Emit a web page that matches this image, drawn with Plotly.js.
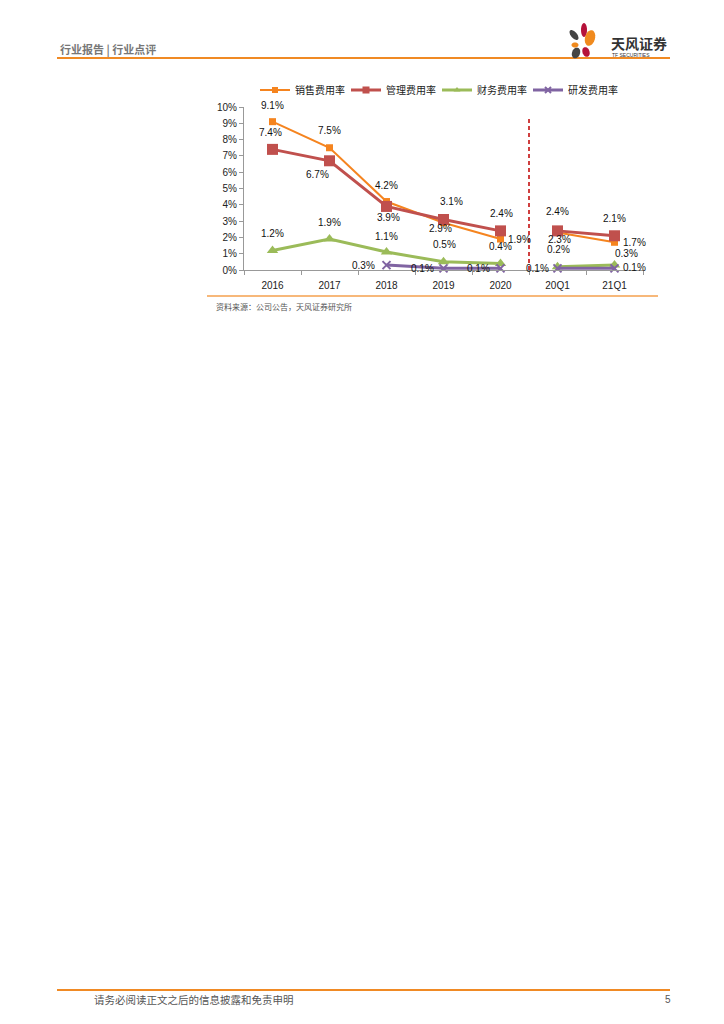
<!DOCTYPE html>
<html><head><meta charset="utf-8">
<script src="https://cdn.plot.ly/plotly-3.0.1.min.js"></script>
<style>body{margin:0;background:#fff}#chart{width:724px;height:1024px}</style>
</head><body><div id="chart"></div>
<script>
// ---- data ----
const categories = ['2016', '2017', '2018', '2019', '2020', '20Q1', '21Q1'];
const sellingRate = [9.1, 7.5, 4.2, 2.9, 1.9, 2.3, 1.7];   // 销售费用率
const adminRate   = [7.4, 6.7, 3.9, 3.1, 2.4, 2.4, 2.1];   // 管理费用率
const financeRate = [1.2, 1.9, 1.1, 0.5, 0.4, 0.2, 0.3];   // 财务费用率
const rdRate      = [null, null, 0.3, 0.1, 0.1, 0.1, 0.1]; // 研发费用率
const seriesNames = ['销售费用率', '管理费用率', '财务费用率', '研发费用率'];
const yTickValues = [0, 1, 2, 3, 4, 5, 6, 7, 8, 9, 10];
const yTickLabels = ['0%', '1%', '2%', '3%', '4%', '5%', '6%', '7%', '8%', '9%', '10%'];
const annualCount = 5; // first 5 categories are annual, the rest quarterly

// ---- styles ----
const W = 724, H = 1024;
const px = x => x / W;
const py = y => 1 - y / H;
const numFont = 'Liberation Sans, Arial, sans-serif';
const cjkFont = 'Noto Sans CJK SC, sans-serif';

const styles = [
  {color: '#F5841F', width: 2, symbol: 'square', size: 7, legendSize: 6},
  {color: '#C0504D', width: 3, symbol: 'square', size: 11, legendSize: 7},
  {color: '#9BBB59', width: 3, symbol: 'triangle-up', size: 10, legendSize: 6},
  {color: '#8064A2', width: 3, symbol: 'x-thin-open', size: 8, legendSize: 6}
];
// label offsets in px (dx, dy up)
const labelOffsets = [
  [[0,16],[0,17],[0,16],[-3,-6],[19,0],[2,-7],[20,0]],
  [[-2,17],[-12,-14],[2,-11],[8,18],[1,17],[0,19],[0,17]],
  [[0,17],[0,17],[0,16],[1,17],[0,17],[1,17],[12,12]],
  [null,null,[-23,0],[-21,0],[-22,0],[-20,0],[20,1]]
];
const allSeries = [sellingRate, adminRate, financeRate, rdRate];
const catIndex = categories.map((c, i) => i);

const traces = [];
allSeries.forEach((vals, i) => {
  const st = styles[i];
  const mk = size => ({color: st.color, symbol: st.symbol, size: size,
             line: {color: st.color, width: st.symbol === 'x-thin-open' ? 2 : 0}});
  const common = {
    type: 'scatter', mode: 'lines+markers', legendgroup: 'g' + i, cliponaxis: false,
    line: {color: st.color, width: st.width}, marker: mk(st.size),
    hoverinfo: 'skip', showlegend: false, name: seriesNames[i]
  };
  traces.push(Object.assign({}, common, {
    x: catIndex.slice(0, annualCount), y: vals.slice(0, annualCount)
  }));
  traces.push(Object.assign({}, common, {
    x: catIndex.slice(annualCount), y: vals.slice(annualCount)
  }));
  // legend-only entry with smaller symbol
  traces.push({type: 'scatter', mode: 'lines+markers', x: [null], y: [null],
    name: seriesNames[i], showlegend: true, legendgroup: 'g' + i, legendrank: i + 1,
    line: {color: st.color, width: st.width}, marker: mk(st.legendSize), hoverinfo: 'skip'});
});

const annotations = [];
allSeries.forEach((vals, i) => {
  vals.forEach((v, j) => {
    if (v === null) return;
    const off = labelOffsets[i][j] || [0, 16];
    annotations.push({
      x: catIndex[j], y: v, xref: 'x', yref: 'y', text: v.toFixed(1) + '%',
      showarrow: false, xanchor: 'center', yanchor: 'middle',
      xshift: off[0], yshift: off[1],
      font: {family: numFont, size: 10, color: '#111'}
    });
  });
});

// page texts
annotations.push(
  {xref: 'paper', yref: 'paper', x: px(58), y: py(49), xanchor: 'left', yanchor: 'middle',
   text: '<b>行业报告 | 行业点评</b>', showarrow: false,
   font: {family: cjkFont, size: 11, color: '#777'}},
  {xref: 'paper', yref: 'paper', x: px(609), y: py(43), xanchor: 'left', yanchor: 'middle',
   text: '<b>天风证券</b>', showarrow: false,
   font: {family: cjkFont, size: 14, color: '#333'}},
  {xref: 'paper', yref: 'paper', x: px(610), y: py(55), xanchor: 'left', yanchor: 'middle',
   text: 'TF SECURITIES', showarrow: false,
   font: {family: numFont, size: 5, color: '#333'}},
  {xref: 'paper', yref: 'paper', x: px(214), y: py(306), xanchor: 'left', yanchor: 'middle',
   text: '资料来源：公司公告，天风证券研究所', showarrow: false,
   font: {family: cjkFont, size: 8, color: '#555'}},
  {xref: 'paper', yref: 'paper', x: px(92), y: py(999), xanchor: 'left', yanchor: 'middle',
   text: '请务必阅读正文之后的信息披露和免责申明', showarrow: false,
   font: {family: cjkFont, size: 10.5, color: '#555'}},
  {xref: 'paper', yref: 'paper', x: px(668), y: py(999), xanchor: 'center', yanchor: 'middle',
   text: '5', showarrow: false,
   font: {family: numFont, size: 10, color: '#555'}}
);

// logo petals as rotated ellipses in pixel coords
function petal(cx, cy, rx, ry, angDeg, color) {
  const a = angDeg * Math.PI / 180;
  let d = '';
  for (let k = 0; k <= 24; k++) {
    const t = k / 24 * 2 * Math.PI;
    const ex = rx * Math.cos(t), ey = ry * Math.sin(t);
    const X = cx + ex * Math.cos(a) - ey * Math.sin(a);
    const Y = cy + ex * Math.sin(a) + ey * Math.cos(a);
    d += (k === 0 ? 'M' : 'L') + px(X).toFixed(5) + ',' + py(Y).toFixed(5);
  }
  return {type: 'path', xref: 'paper', yref: 'paper', path: d + 'Z',
          fillcolor: color, line: {width: 0}, layer: 'above'};
}

const shapes = [
  {type: 'line', xref: 'paper', yref: 'paper', x0: px(57), x1: px(670), y0: py(58), y1: py(58),
   line: {color: '#F08A24', width: 2}},
  {type: 'line', xref: 'paper', yref: 'paper', x0: px(207), x1: px(658), y0: py(296), y1: py(296),
   line: {color: '#F5A04E', width: 1.5}},
  {type: 'line', xref: 'paper', yref: 'paper', x0: px(57), x1: px(670), y0: py(990), y1: py(990),
   line: {color: '#F08A24', width: 2}},
  {type: 'line', xref: 'x', yref: 'paper', x0: 4.5, x1: 4.5, y0: py(270), y1: py(116),
   line: {color: '#C00000', width: 1.5, dash: '4px,3px'}},
  petal(584, 30, 3, 7, 0, '#B5123A'),
  petal(574, 35, 3, 6, -40, '#444'),
  petal(590, 38, 5, 8, 15, '#F08A1E'),
  petal(575, 45, 3.5, 2.5, 0, '#F08A1E'),
  petal(576, 53, 4, 5.5, 20, '#444'),
  petal(586, 52, 3.5, 5, -20, '#B5123A')
];

const layout = {
  width: W, height: H, margin: {l: 0, r: 0, t: 0, b: 0},
  paper_bgcolor: '#fff', plot_bgcolor: 'rgba(0,0,0,0)',
  showlegend: true,
  legend: {orientation: 'h', x: px(255), y: py(90), xanchor: 'left', yanchor: 'middle',
           font: {family: cjkFont, size: 10, color: '#222'}, itemwidth: 30,
           entrywidth: 46, entrywidthmode: 'pixels', bgcolor: 'rgba(0,0,0,0)',
           traceorder: 'normal'},
  xaxis: {domain: [px(244), px(643)], type: 'linear', range: [-0.5, 6.5],
          tickvals: catIndex, ticktext: categories,
          showline: true, linecolor: '#999', linewidth: 1, ticks: '',
          ticklabelstandoff: 6, showgrid: false, zeroline: false,
          tickfont: {family: numFont, size: 10, color: '#222'}, fixedrange: true},
  xaxis2: {overlaying: 'x', domain: [px(244), px(643)], range: [-0.5, 6.5], anchor: 'y',
           tickvals: [-0.5, 0.5, 1.5, 2.5, 3.5, 4.5, 5.5, 6.5], showticklabels: false,
           ticks: 'outside', ticklen: 4, tickcolor: '#999', showgrid: false, zeroline: false,
           showline: false, fixedrange: true},
  yaxis: {domain: [py(270), py(107)], range: [0, 10], tickvals: yTickValues, ticktext: yTickLabels,
          showline: true, linecolor: '#999', linewidth: 1, ticks: 'outside', ticklen: 4,
          tickcolor: '#999', showgrid: false, zeroline: false,
          tickfont: {family: numFont, size: 10, color: '#222'}, fixedrange: true},
  annotations: annotations,
  shapes: shapes
};

// empty trace to show boundary ticks on xaxis2
traces.push({type: 'scatter', x: [], y: [], xaxis: 'x2', yaxis: 'y', showlegend: false, hoverinfo: 'skip'});

Plotly.newPlot('chart', traces, layout, {staticPlot: true, displayModeBar: false});
</script>
</body></html>
